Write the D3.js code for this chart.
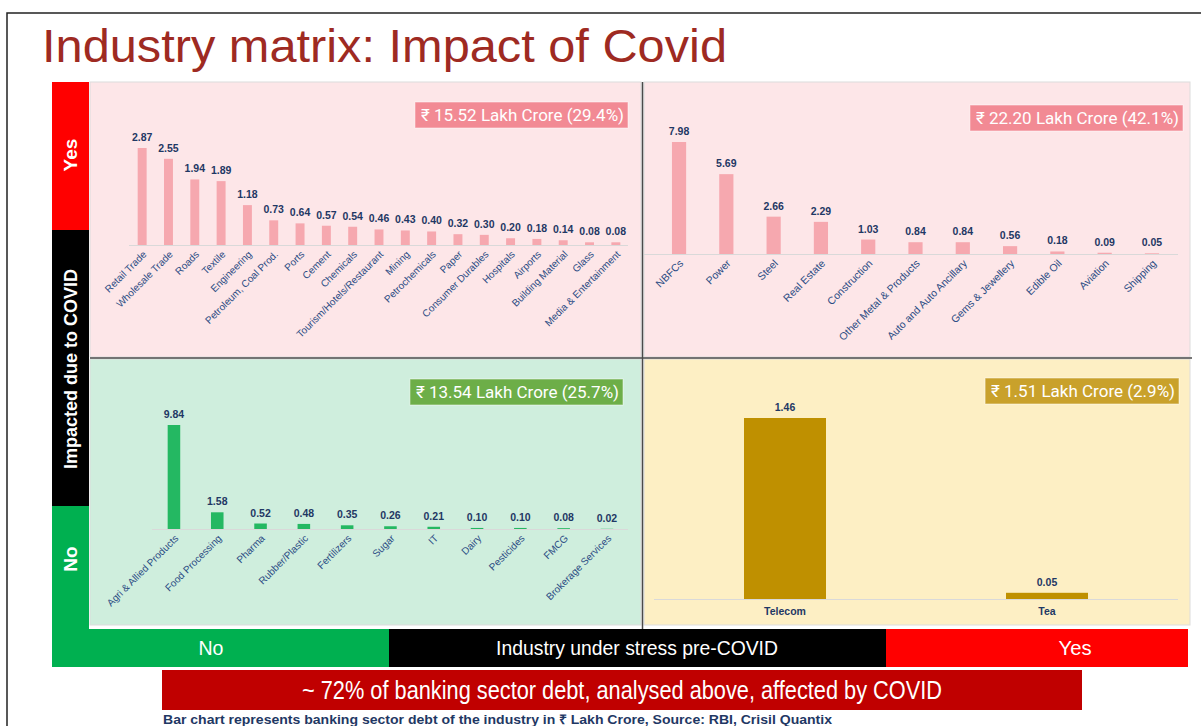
<!DOCTYPE html>
<html>
<head>
<meta charset="utf-8">
<script src="https://cdn.jsdelivr.net/npm/d3@7"></script>
<style>
  body { margin: 0; background: #fff; }
  svg { display: block; }
</style>
</head>
<body>
<div id="content"></div>
<script>
// values in Rs lakh crore
const stressedImpactedCats = ['Retail Trade', 'Wholesale Trade', 'Roads', 'Textile', 'Engineering',
  'Petroleum, Coal Prod.', 'Ports', 'Cement', 'Chemicals', 'Tourism/Hotels/Restaurant', 'Mining',
  'Petrochemicals', 'Paper', 'Consumer Durables', 'Hospitals', 'Airports', 'Building Material',
  'Glass', 'Media & Entertainment'];
const stressedImpactedVals = [2.87, 2.55, 1.94, 1.89, 1.18, 0.73, 0.64, 0.57, 0.54, 0.46, 0.43,
  0.40, 0.32, 0.30, 0.20, 0.18, 0.14, 0.08, 0.08];

const impactedCats = ['NBFCs', 'Power', 'Steel', 'Real Estate', 'Construction', 'Other Metal & Products',
  'Auto and Auto Ancillary', 'Gems & Jewellery', 'Edible Oil', 'Aviation', 'Shipping'];
const impactedVals = [7.98, 5.69, 2.66, 2.29, 1.03, 0.84, 0.84, 0.56, 0.18, 0.09, 0.05];

const safeCats = ['Agri & Allied Products', 'Food Processing', 'Pharma', 'Rubber/Plastic', 'Fertilizers',
  'Sugar', 'IT', 'Dairy', 'Pesticides', 'FMCG', 'Brokerage Services'];
const safeVals = [9.84, 1.58, 0.52, 0.48, 0.35, 0.26, 0.21, 0.10, 0.10, 0.08, 0.02];

const stressedCats = ['Telecom', 'Tea'];
const stressedVals = [1.46, 0.05];

const totals = ['₹ 15.52 Lakh Crore (29.4%)', '₹ 22.20 Lakh Crore (42.1%)',
  '₹ 13.54 Lakh Crore (25.7%)', '₹ 1.51 Lakh Crore (2.9%)'];

const NARROW = '"Liberation Sans Narrow", "Arial Narrow", "Liberation Sans", Arial, sans-serif';
const ARIAL = '"Liberation Sans", Arial, sans-serif';

const root = d3.select('#content').append('svg')
  .attr('width', 1201).attr('height', 726);

// squeeze text to the width it has on the slide (no narrow font here)
const fit = (sel, w) => sel.attr('textLength', w).attr('lengthAdjust', 'spacingAndGlyphs');

// outer frame
root.append('path')
  .attr('d', 'M7,726 V13 H1201')
  .attr('fill', 'none').attr('stroke', '#222').attr('stroke-width', 1.5);

// title
root.append('text')
  .attr('x', 42).attr('y', 62)
  .attr('font-family', NARROW).attr('font-size', 47)
  .attr('fill', '#9E2A22')
  .text('Industry matrix: Impact of Covid')
  .call(fit, 685);

// panel backgrounds
const panelRects = [
  {x: 90, y: 82, w: 551, h: 275, fill: '#FDE6E8'},
  {x: 644, y: 82, w: 546, h: 275, fill: '#FDE6E8'},
  {x: 90, y: 359, w: 551, h: 266, fill: '#CFEEDD'},
  {x: 644, y: 359, w: 546, h: 266, fill: '#FDEFC4'},
];
root.selectAll('rect.panel').data(panelRects).enter().append('rect')
  .attr('class', 'panel')
  .attr('x', d => d.x).attr('y', d => d.y)
  .attr('width', d => d.w).attr('height', d => d.h)
  .attr('fill', d => d.fill)
  .attr('stroke', '#DCDCDC').attr('stroke-width', 1);

// quadrant dividers
root.append('line')
  .attr('x1', 642.5).attr('x2', 642.5).attr('y1', 82).attr('y2', 629)
  .attr('stroke', '#4A4A4A').attr('stroke-width', 1.5);
root.append('line')
  .attr('x1', 90).attr('x2', 1192).attr('y1', 358).attr('y2', 358)
  .attr('stroke', '#4A4A4A').attr('stroke-width', 1.5);

// left strip
const strip = [
  {y0: 82, y1: 230, fill: '#FF0000'},
  {y0: 230, y1: 506, fill: '#000000'},
  {y0: 506, y1: 667, fill: '#00B050'},
];
strip.forEach(s => {
  root.append('rect')
    .attr('x', 52).attr('y', s.y0).attr('width', 37).attr('height', s.y1 - s.y0)
    .attr('fill', s.fill);
});
[{label: 'Yes', cy: 155, size: 19}, {label: 'Impacted due to COVID', cy: 369, size: 18},
 {label: 'No', cy: 559, size: 19}].forEach(s => {
  root.append('text')
    .attr('transform', `translate(77, ${s.cy}) rotate(-90)`)
    .attr('text-anchor', 'middle')
    .attr('font-family', ARIAL).attr('font-weight', 'bold').attr('font-size', s.size)
    .attr('fill', '#fff')
    .text(s.label);
});

// bottom strip
const bottom = [
  {x0: 52, x1: 389, fill: '#00B050', label: 'No', w: 25, cx: 211},
  {x0: 389, x1: 886, fill: '#000000', label: 'Industry under stress pre-COVID', w: 282, cx: 637},
  {x0: 886, x1: 1188, fill: '#FF0000', label: 'Yes', w: 33, cx: 1075},
];
bottom.forEach(b => {
  root.append('rect')
    .attr('x', b.x0).attr('y', 629).attr('width', b.x1 - b.x0).attr('height', 38)
    .attr('fill', b.fill);
  root.append('text')
    .attr('x', b.cx)
    .attr('y', 655)
    .attr('text-anchor', 'middle')
    .attr('font-family', NARROW).attr('font-size', 21)
    .attr('fill', '#fff')
    .text(b.label)
    .call(fit, b.w);
});

// banner + footnote
root.append('rect')
  .attr('x', 162).attr('y', 670).attr('width', 920).attr('height', 40)
  .attr('fill', '#C00000');
root.append('text')
  .attr('x', 622).attr('y', 699).attr('text-anchor', 'middle')
  .attr('font-family', NARROW).attr('font-size', 25).attr('fill', '#fff')
  .text('~ 72% of banking sector debt, analysed above, affected by COVID')
  .call(fit, 640);
root.append('text')
  .attr('x', 163).attr('y', 724)
  .attr('font-family', NARROW).attr('font-weight', 'bold').attr('font-size', 13)
  .attr('fill', '#1F3864')
  .text('Bar chart represents banking sector debt of the industry in ₹ Lakh Crore, Source: RBI, Crisil Quantix')
  .call(fit, 669);

// the four bar charts
const panels = [
  {cats: stressedImpactedCats, vals: stressedImpactedVals, total: totals[0],
   range: [129, 629], pad: 0.66, base: 245, top: 148, line: [129, 628],
   fill: '#F6A8AF', badge: '#F28A94', badgeRight: 628, badgeY: 102, rotate: true, catSize: 10},
  {cats: impactedCats, vals: impactedVals, total: totals[1],
   range: [655.4, 1175.6], pad: 0.70, base: 254, top: 142, line: [644, 1178],
   fill: '#F6A8AF', badge: '#F28A94', badgeRight: 1183, badgeY: 105, rotate: true, catSize: 10.5},
  {cats: safeCats, vals: safeVals, total: totals[2],
   range: [152.3, 628.6], pad: 0.71, base: 529, top: 425, line: [152, 628],
   fill: '#24B862', badge: '#6DAE48', badgeRight: 623, badgeY: 379, rotate: true, catSize: 10},
  {cats: stressedCats, vals: stressedVals, total: totals[3],
   range: [654, 1178], pad: 0.687, base: 599, top: 418, line: [654, 1178],
   fill: '#BF9000', badge: '#C9A12B', badgeRight: 1179, badgeY: 378, rotate: false, catSize: 10.5},
];

panels.forEach(p => {
  const g = root.append('g');
  const x = d3.scaleBand().domain(p.cats).range(p.range)
    .paddingInner(p.pad).paddingOuter(p.pad / 2);
  const y = d3.scaleLinear().domain([0, d3.max(p.vals)]).range([p.base, p.top]);
  const rows = p.cats.map((c, i) => ({cat: c, val: p.vals[i]}));

  g.append('line')
    .attr('x1', p.line[0]).attr('x2', p.line[1]).attr('y1', p.base + 0.5).attr('y2', p.base + 0.5)
    .attr('stroke', '#D9D9D9').attr('stroke-width', 1);

  g.selectAll('rect.bar').data(rows).enter().append('rect')
    .attr('class', 'bar')
    .attr('x', d => x(d.cat)).attr('width', x.bandwidth())
    .attr('y', d => y(d.val)).attr('height', d => p.base - y(d.val))
    .attr('fill', p.fill);

  g.selectAll('text.val').data(rows).enter().append('text')
    .attr('class', 'val')
    .attr('x', d => x(d.cat) + x.bandwidth() / 2)
    .attr('y', d => y(d.val) - 7)
    .attr('text-anchor', 'middle')
    .attr('font-family', ARIAL).attr('font-weight', 'bold').attr('font-size', 10.5)
    .attr('fill', '#1F3864')
    .text(d => d.val.toFixed(2));

  const axis = g.append('g')
    .attr('transform', `translate(0, ${p.base})`)
    .call(d3.axisBottom(x).tickSize(0).tickSizeOuter(0));
  axis.select('.domain').remove();
  const ticks = axis.selectAll('.tick text')
    .attr('font-family', ARIAL).attr('font-size', p.catSize)
    .attr('fill', '#2B4C84');
  if (p.rotate) {
    ticks.attr('x', 0).attr('y', 0).attr('dy', 0)
      .attr('text-anchor', 'end')
      .attr('transform', 'translate(5, 10) rotate(-45)');
  } else {
    ticks.attr('y', 9).attr('font-weight', 'bold').attr('fill', '#1F3864');
  }

  // total badge
  const t = g.append('text')
    .attr('y', p.badgeY + 19)
    .attr('text-anchor', 'end')
    .attr('font-family', 'Roboto, "Noto Sans", sans-serif').attr('font-size', 17)
    .attr('fill', '#fff')
    .text(p.total);
  const tw = t.node().getComputedTextLength();
  t.attr('x', p.badgeRight - 4);
  g.insert('rect', () => t.node())
    .attr('x', p.badgeRight - tw - 10).attr('y', p.badgeY)
    .attr('width', tw + 10).attr('height', 26)
    .attr('fill', p.badge).attr('stroke', 'rgba(255,255,255,0.5)').attr('stroke-width', 1);
});
</script>
</body>
</html>
